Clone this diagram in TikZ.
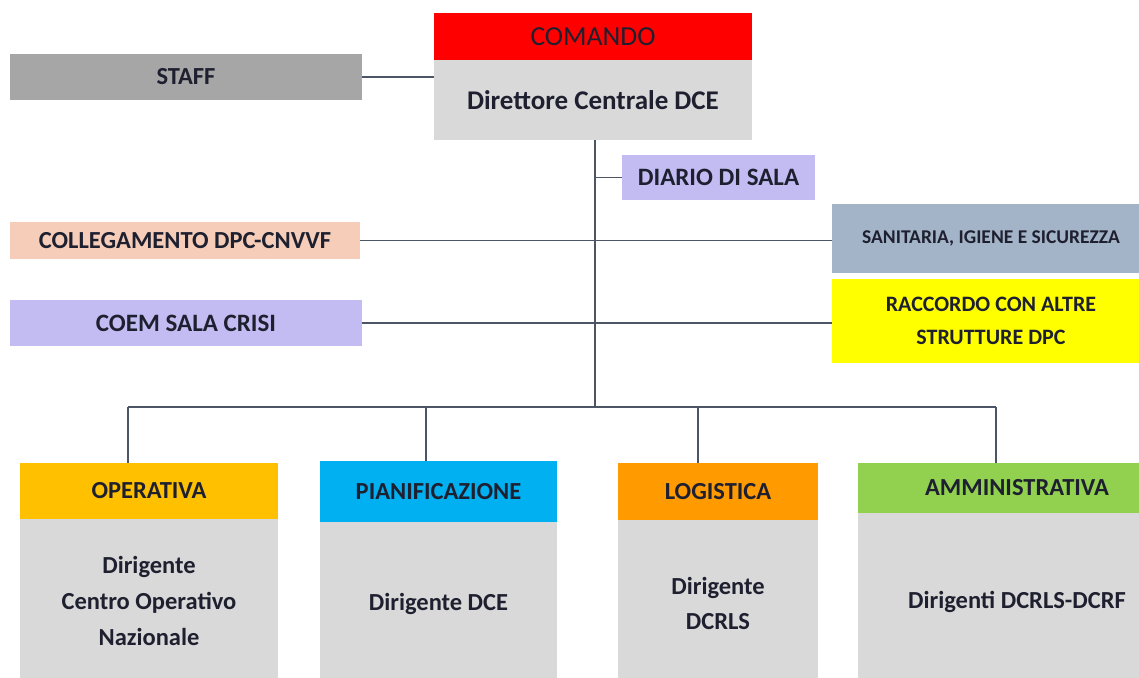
\documentclass[tikz,border=0pt]{standalone}
\usepackage{fontspec}
\setmainfont{Carlito}
\begin{document}
\begin{tikzpicture}[x=1pt,y=-1pt,
  box/.style={draw=none,inner sep=0pt,outer sep=0pt,align=center,font=\bfseries,text=txt,anchor=north west},
  conn/.style={draw=linec,line width=1.4pt}]
\definecolor{txt}{HTML}{1E2030}
\definecolor{linec}{HTML}{4C5566}
\definecolor{grayb}{HTML}{D9D9D9}
\definecolor{staffc}{HTML}{A6A6A6}
\definecolor{lav}{HTML}{C2BCF2}
\definecolor{peach}{HTML}{F5CDB9}
\definecolor{bluegray}{HTML}{A4B4C8}
\definecolor{yel}{HTML}{FFFF00}
\definecolor{red1}{HTML}{FF0000}
\definecolor{opc}{HTML}{FFC000}
\definecolor{pianc}{HTML}{00B0F0}
\definecolor{logc}{HTML}{FF9A00}
\definecolor{ammc}{HTML}{92D050}
\useasboundingbox (0,0) rectangle (1139,677);
\clip (0,0) rectangle (1139,677);
\fill[white] (0,0) rectangle (1139,677);
% top
\node[box,fill=red1,minimum width=318pt,minimum height=47pt,font=\fontsize{27.5}{30}\selectfont] (cmd) at (434,13) {COMANDO};
\node[box,fill=grayb,minimum width=318pt,minimum height=80pt,font=\bfseries\fontsize{27}{30}\selectfont] (dir) at (434,60) {Direttore Centrale DCE};
\node[box,fill=staffc,minimum width=352pt,minimum height=46pt,font=\bfseries\fontsize{24.5}{28}\selectfont] (staff) at (10,54) {STAFF};
\node[box,fill=lav,minimum width=193pt,minimum height=45pt,font=\bfseries\fontsize{25}{28}\selectfont] (diario) at (622,155) {DIARIO DI SALA};
\node[box,fill=peach,minimum width=350pt,minimum height=37pt,font=\bfseries\fontsize{24.5}{28}\selectfont] (coll) at (10,222) {COLLEGAMENTO DPC-CNVVF};
\node[box,fill=lav,minimum width=352pt,minimum height=46pt,font=\bfseries\fontsize{25}{28}\selectfont] (coem) at (10,300) {COEM SALA CRISI};
\node[box,fill=bluegray,minimum width=318pt,minimum height=69pt,font=\bfseries\fontsize{19.5}{23}\selectfont] (san) at (832,204) {SANITARIA, IGIENE E SICUREZZA};
\node[box,fill=yel,minimum width=318pt,minimum height=84pt,font=\bfseries\fontsize{22}{33}\selectfont] (racc) at (832,279) {RACCORDO CON ALTRE\\STRUTTURE DPC};
% bottom
\node[box,fill=opc,minimum width=258pt,minimum height=56pt,font=\bfseries\fontsize{24.5}{28}\selectfont] (op) at (20,463) {OPERATIVA};
\node[box,fill=grayb,minimum width=258pt,minimum height=164pt,font=\bfseries\fontsize{24.5}{36}\selectfont] (opb) at (20,519) {Dirigente\\Centro Operativo\\Nazionale};
\node[box,fill=pianc,minimum width=237pt,minimum height=61pt,font=\bfseries\fontsize{24.5}{28}\selectfont] (pian) at (320,461) {PIANIFICAZIONE};
\node[box,fill=grayb,minimum width=237pt,minimum height=164pt,font=\bfseries\fontsize{24.5}{36}\selectfont] (pianb) at (320,522) {Dirigente DCE};
\node[box,fill=logc,minimum width=200pt,minimum height=57pt,font=\bfseries\fontsize{24.5}{28}\selectfont] (log) at (618,463) {LOGISTICA};
\node[box,fill=grayb,minimum width=200pt,minimum height=166pt,font=\bfseries\fontsize{24.5}{35}\selectfont] (logb) at (618,520) {Dirigente\\DCRLS};
\node[box,fill=ammc,minimum width=318pt,minimum height=50pt,font=\bfseries\fontsize{24.5}{28}\selectfont] (amm) at (858,463) {AMMINISTRATIVA};
\node[box,fill=grayb,minimum width=318pt,minimum height=178pt,font=\bfseries\fontsize{24.5}{35}\selectfont] (ammb) at (858,513) {Dirigenti DCRLS-DCRF};
% connectors
\coordinate (tr0) at (595,140);
\coordinate (tr1) at (595,407);
\draw[conn] (dir.south -| tr0) -- (tr1);
\draw[conn] (staff.east) -- (staff.east -| dir.west);
\draw[conn] (diario.west -| tr0) -- (diario.west);
\draw[conn] (coll.east) -- (coll.east -| san.west);
\draw[conn] (coem.east) -- (coem.east -| racc.west);
\coordinate (bl) at (128,407);
\coordinate (br) at (996,407);
\coordinate (bm1) at (426,407);
\coordinate (bm2) at (698,407);
\draw[conn] (bl) -- (br);
\draw[conn] (bl) -- (bl |- op.north);
\draw[conn] (bm1) -- (bm1 |- pian.north);
\draw[conn] (bm2) -- (bm2 |- log.north);
\draw[conn] (br) -- (br |- amm.north);
\end{tikzpicture}
\end{document}
